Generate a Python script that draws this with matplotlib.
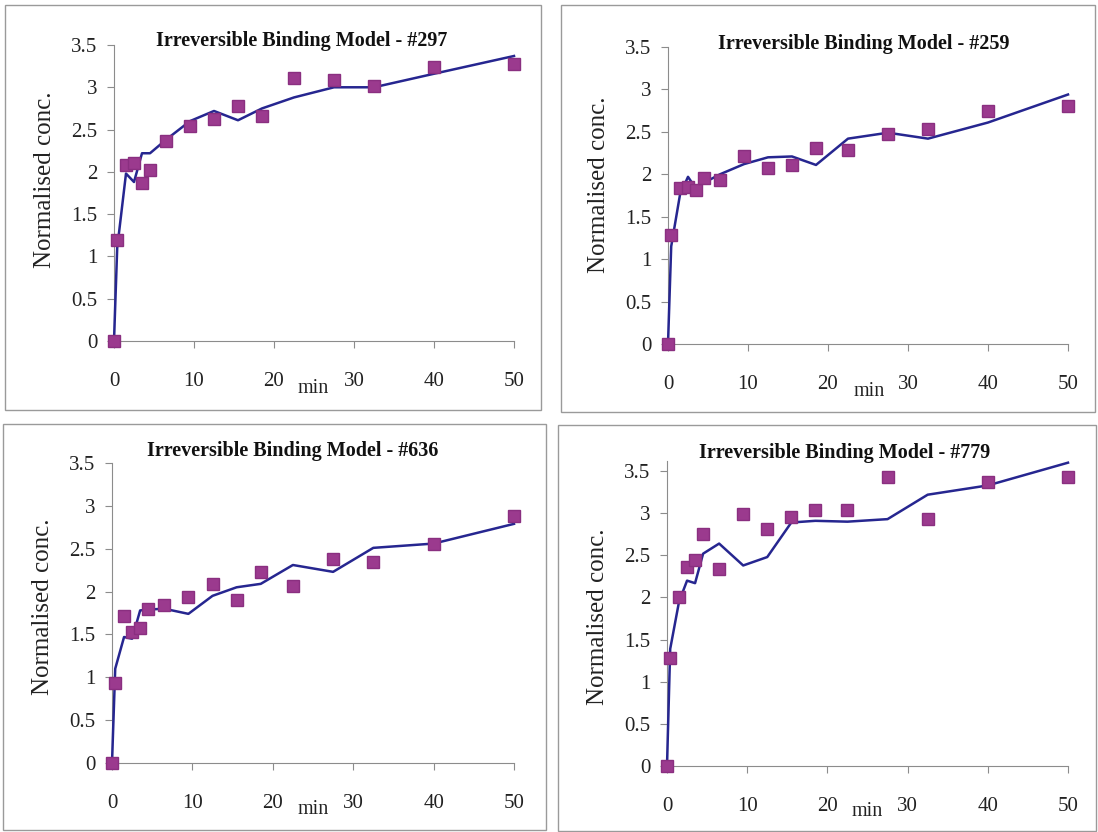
import matplotlib
matplotlib.use('Agg')
import matplotlib.pyplot as plt
from matplotlib.patches import Rectangle

# sampling times (min)
TIMES = [0, 0.4, 1.5, 2.5, 3.5, 4.5, 6.5, 9.5, 12.5, 15.5, 18.5, 22.5, 27.5, 32.5, 40, 50]

# measured normalised concentrations
DATA_297 = [0, 1.20, 2.08, 2.10, 1.87, 2.02, 2.37, 2.54, 2.62, 2.78, 2.66, 3.11, 3.09, 3.01, 3.24, 3.28]
DATA_259 = [0, 1.28, 1.84, 1.85, 1.81, 1.96, 1.93, 2.22, 2.07, 2.11, 2.31, 2.29, 2.47, 2.53, 2.75, 2.80]
DATA_636 = [0, 0.93, 1.72, 1.53, 1.58, 1.80, 1.84, 1.94, 2.09, 1.90, 2.23, 2.07, 2.38, 2.35, 2.55, 2.88]
DATA_779 = [0, 1.28, 2.00, 2.36, 2.45, 2.75, 2.34, 2.99, 2.81, 2.96, 3.04, 3.04, 3.43, 2.93, 3.37, 3.43]

# irreversible binding model fits
MODEL_297 = [0, 1.10, 1.98, 1.88, 2.22, 2.22, 2.38, 2.60, 2.72, 2.61, 2.75, 2.88, 3.00, 3.00, 3.16, 3.37]
MODEL_259 = [0, 1.15, 1.76, 1.97, 1.83, 1.90, 2.00, 2.12, 2.20, 2.21, 2.11, 2.42, 2.49, 2.42, 2.61, 2.94]
MODEL_636 = [0, 1.10, 1.47, 1.45, 1.78, 1.79, 1.80, 1.74, 1.95, 2.05, 2.09, 2.31, 2.23, 2.51, 2.56, 2.79]
MODEL_779 = [0, 1.39, 1.95, 2.20, 2.17, 2.52, 2.64, 2.38, 2.48, 2.89, 2.91, 2.90, 2.93, 3.22, 3.33, 3.60]

SUBJECTS = ['#297', '#259', '#636', '#779']
DATA = [DATA_297, DATA_259, DATA_636, DATA_779]
MODELS = [MODEL_297, MODEL_259, MODEL_636, MODEL_779]

W, H = 1098, 832
SERIF = ['Liberation Serif', 'DejaVu Serif']

# panel layout in pixels
PANELS = [
    dict(ax=(114, 514, 45, 341), box=(5, 5, 541, 410), ytop=3.5,
         title=(302, 41), ylab=(45, 180), xlab=(313, 389)),
    dict(ax=(668, 1068, 47, 344), box=(561, 5, 1095, 412), ytop=3.5,
         title=(864, 44), ylab=(599, 185), xlab=(869, 391)),
    dict(ax=(112, 514, 463, 763), box=(3, 424, 546, 830), ytop=3.5,
         title=(293, 451), ylab=(43, 607), xlab=(313, 810)),
    dict(ax=(667, 1068, 461, 766), box=(558, 425, 1096, 831), ytop=3.62,
         title=(845, 453), ylab=(598, 617), xlab=(867, 812)),
]

fig = plt.figure(figsize=(W / 100, H / 100), dpi=100)
fig.patch.set_facecolor('white')

for name, data, model, p in zip(SUBJECTS, DATA, MODELS, PANELS):
    x0, x1, yt, yb = p['ax']
    ax = fig.add_axes([x0 / W, 1 - yb / H, (x1 - x0) / W, (yb - yt) / H])

    bx0, by0, bx1, by1 = p['box']
    fig.patches.append(Rectangle((bx0 / W, 1 - by1 / H), (bx1 - bx0) / W, (by1 - by0) / H,
                                 transform=fig.transFigure, fill=False,
                                 edgecolor='#9a9a9a', linewidth=1.0))

    ax.plot(TIMES, model, color='#262690', linewidth=1.8, clip_on=False, zorder=3)
    ax.plot(TIMES, data, linestyle='none', marker='s', markersize=8.5,
            color='#9b3a8e', markeredgecolor='#8a2f80', clip_on=False, zorder=4)

    ax.set_xlim(0, 50)
    ax.set_ylim(0, p['ytop'])
    ax.set_xticks([0, 10, 20, 30, 40, 50])
    ax.set_yticks([0, 0.5, 1, 1.5, 2, 2.5, 3, 3.5])
    ax.set_yticklabels(['0', '0.5', '1', '1.5', '2', '2.5', '3', '3.5'])

    for side in ['top', 'right']:
        ax.spines[side].set_visible(False)
    for side in ['left', 'bottom']:
        ax.spines[side].set_color('#8c8c8c')
        ax.spines[side].set_linewidth(0.8)
    ax.tick_params(direction='out', length=5, width=0.8, color='#8c8c8c',
                   labelsize=15, labelcolor='#222222')
    ax.tick_params(axis='x', pad=17)
    ax.tick_params(axis='y', pad=7)
    for lab in ax.get_xticklabels() + ax.get_yticklabels():
        lab.set_family(SERIF)
    ax.patch.set_alpha(0)

    tx, ty = p['title']
    fig.text(tx / W, 1 - ty / H, 'Irreversible Binding Model - ' + name, family=SERIF,
             fontweight='bold', fontsize=14.5, color='#111111', ha='center', va='center')
    lx, ly = p['ylab']
    fig.text(lx / W, 1 - ly / H, 'Normalised conc.', family=SERIF, fontsize=18,
             color='#222222', rotation=90, ha='center', va='center')
    mx, my = p['xlab']
    fig.text(mx / W, 1 - my / H, 'min', family=SERIF, fontsize=14.5,
             color='#222222', ha='center', va='center')

fig.savefig('out.png', dpi=100, facecolor='white')
